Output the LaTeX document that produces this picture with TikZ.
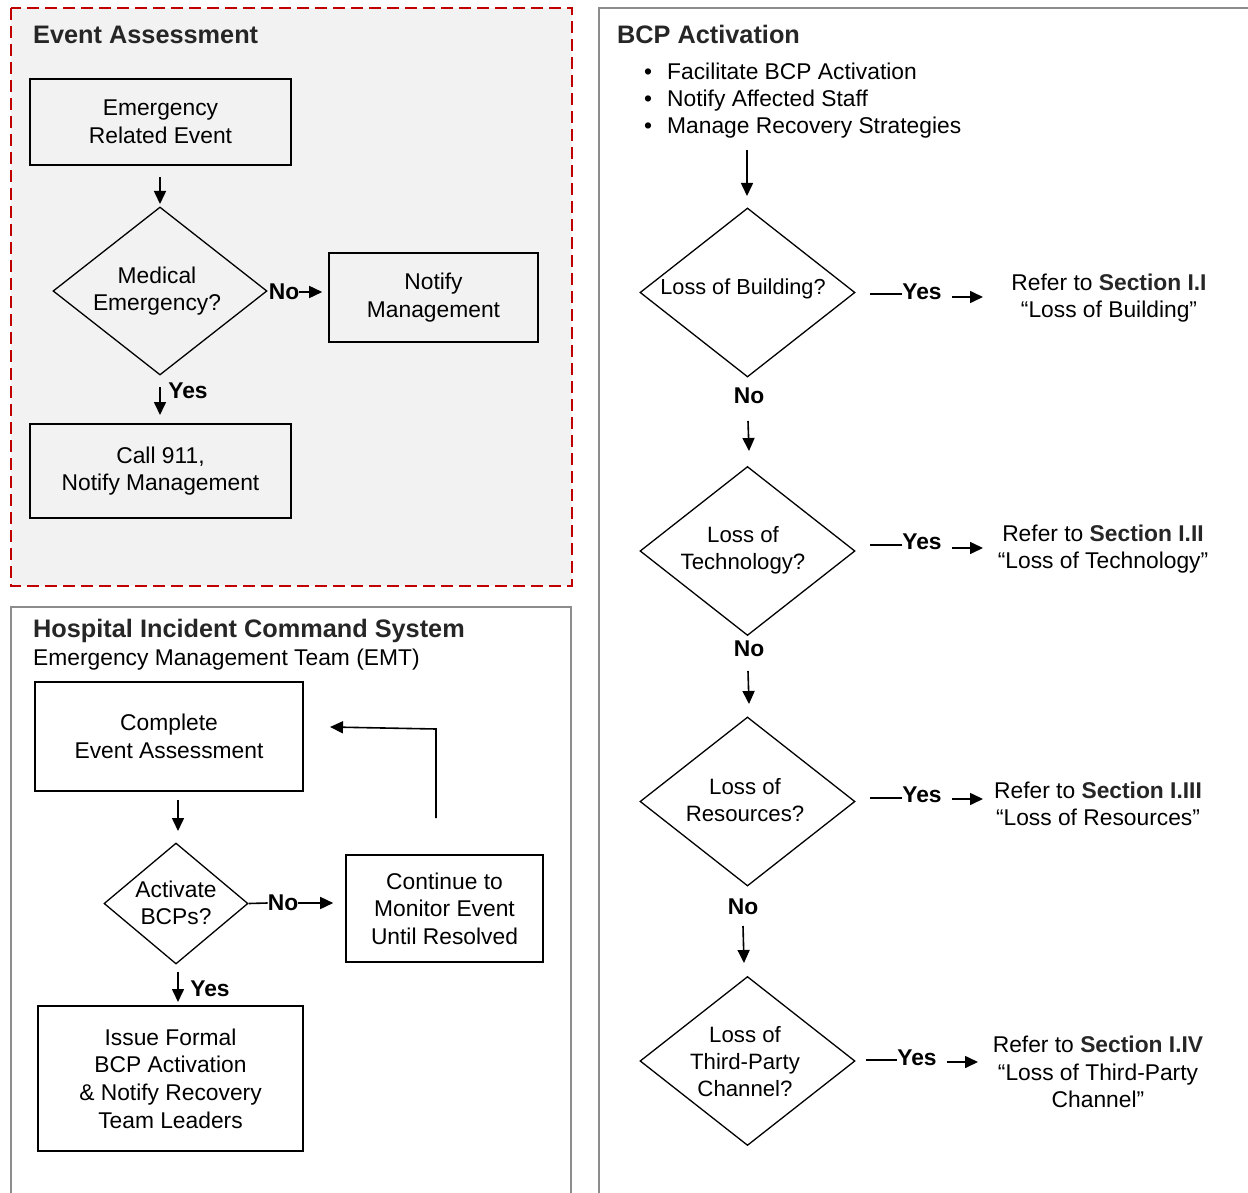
\documentclass[tikz,border=0pt]{standalone}
\usepackage{fontspec}
\setmainfont{Liberation Sans}
\usetikzlibrary{shapes.geometric,arrows.meta}
\definecolor{panelred}{HTML}{C00000}
\definecolor{panelgray}{HTML}{8C8C8C}
\definecolor{panelfill}{HTML}{F2F2F2}
\definecolor{titlegray}{HTML}{262626}
\begin{document}
\begin{tikzpicture}[x=1pt,y=-1pt,
  body/.style={font=\fontsize{22.8}{27.6}\selectfont, align=center, text=black, inner sep=0},
  dbody/.style={font=\fontsize{22.2}{27}\selectfont, align=center, text=black, inner sep=0},
  box/.style={draw=black, line width=1.6pt, body},
  dia/.style={draw=black, line width=1.3pt, shape=diamond, inner sep=0},
  ttl/.style={font=\fontsize{25.3}{28}\selectfont\bfseries, text=titlegray, anchor=base west, inner sep=0},
  sub/.style={font=\fontsize{22.8}{27.6}\selectfont, text=black, anchor=base west, inner sep=0},
  lab/.style={font=\fontsize{22.8}{26}\selectfont\bfseries, text=black, inner sep=0},
  arr/.style={line width=1.6pt, -{Triangle[length=13pt,width=12pt]}},
  ln/.style={line width=1.6pt},
]
\useasboundingbox (0,0) rectangle (1248,1193);

% ---------- panels ----------
\draw[panelred, dash pattern=on 12pt off 6pt, line width=1.8pt, fill=panelfill] (11,8) rectangle (572,586);
\draw[panelgray, line width=1.8pt] (11,1193) -- (11,607) -- (571,607) -- (571,1193);
\draw[panelgray, line width=1.8pt] (599,1193) -- (599,8) -- (1248,8);

% ---------- Event Assessment ----------
\node[ttl] (t1) at (33,44) {Event Assessment};
\node[box, minimum width=261pt, minimum height=86pt] (ere) at (160.5,122) {Emergency\\Related Event};
\node[dia, minimum width=214pt, minimum height=168pt] (med) at (160,291) {};
\node[body] (medt) at (157,291) {Medical\\Emergency?};
\node[box, minimum width=209pt, minimum height=89pt] (nm) at (433.5,297.5) {Notify\\Management};
\node[box, minimum width=261pt, minimum height=94pt] (c911) at (160.5,471) {Call 911,\\Notify Management};

\coordinate (a1s) at (160,177);
\coordinate (a1e) at (160,204);
\draw[arr] (a1s) -- (a1e);

\node[lab] (no1) at (284,292) {No};
\draw[arr] (no1.east) -- ([xshift=-6pt]nm.west |- no1.east);

\coordinate (a2s) at (160,387);
\coordinate (a2e) at (160,415);
\draw[arr] (a2s) -- (a2e);
\node[lab] (yes1) at (188,391) {Yes};

% ---------- HICS ----------
\node[ttl] (t2) at (33,637) {Hospital Incident Command System};
\node[sub] (t2s) at (33,665) {Emergency Management Team (EMT)};
\node[box, minimum width=268pt, minimum height=109pt] (cea) at (169,736.5) {Complete\\Event Assessment};
\coordinate (b1s) at (178,800);
\coordinate (b1e) at (178,831);
\draw[arr] (b1s) -- (b1e);
\node[dia, minimum width=144pt, minimum height=121pt] (act) at (176,903.5) {};
\node[body] (actt) at (176,903) {Activate\\BCPs?};
\node[box, minimum width=197pt, minimum height=107pt] (cont) at (444.5,908.5) {Continue to\\Monitor Event\\Until Resolved};
\node[lab] (no2) at (283,903) {No};
\draw[ln] (act.east) -- (no2.west);
\draw[arr] (no2.east) -- ([xshift=-12pt]cont.west |- no2.east);
\coordinate (fb1) at (436,818);
\coordinate (fb2) at (436,729);
\coordinate (fbe) at (330,727);
\draw[arr] (fb1) -- (fb2) -- (fbe);
\coordinate (b2s) at (178,972);
\coordinate (b2e) at (178,1002);
\draw[arr] (b2s) -- (b2e);
\node[lab] (yes2) at (210,989) {Yes};
\node[box, minimum width=265pt, minimum height=145pt] (issue) at (170.5,1078.5) {Issue Formal\\BCP Activation\\\& Notify Recovery\\Team Leaders};

% ---------- BCP Activation ----------
\node[ttl] (t3) at (617,44) {BCP Activation};
\node[sub] (bl1) at (644,80) {•};
\node[sub] (bt1) at (667,80) {Facilitate BCP Activation};
\node[sub] (bl2) at (644,107) {•};
\node[sub] (bt2) at (667,107) {Notify Affected Staff};
\node[sub] (bl3) at (644,134) {•};
\node[sub] (bt3) at (667,134) {Manage Recovery Strategies};

\coordinate (c0s) at (747,150);
\coordinate (c0e) at (747,196);
\draw[arr] (c0s) -- (c0e);

% diamond 1
\node[dia, minimum width=215pt, minimum height=169pt] (d1) at (747.5,292.5) {};
\node[dbody, font=\fontsize{21.7}{27}\selectfont] (d1t) at (743,289) {Loss of Building?};
\coordinate (y1a) at (870,294);
\node[lab] (y1) at (922,292) {Yes};
\coordinate (y1b) at (952,297);
\coordinate (y1c) at (983,297);
\draw[ln] (y1a) -- (y1.west |- y1a);
\draw[arr] (y1b) -- (y1c);
\node[body] (r1) at (1109,298) {Refer to \textbf{\color{titlegray}Section I.I}\\“Loss of Building”};
\node[lab] (n1) at (749,396) {No};
\coordinate (n1s) at (748,421);
\coordinate (n1e) at (749,451);
\draw[arr] (n1s) -- (n1e);

% diamond 2
\node[dia, minimum width=215pt, minimum height=169pt] (d2) at (747.5,551) {};
\node[dbody] (d2t) at (743,550) {Loss of\\Technology?};
\coordinate (y2a) at (870,545);
\node[lab] (y2) at (922,542) {Yes};
\coordinate (y2b) at (952,548);
\coordinate (y2c) at (983,548);
\draw[ln] (y2a) -- (y2.west |- y2a);
\draw[arr] (y2b) -- (y2c);
\node[body] (r2) at (1103,549) {Refer to \textbf{\color{titlegray}Section I.II}\\“Loss of Technology”};
\node[lab] (n2) at (749,649) {No};
\coordinate (n2s) at (748,671);
\coordinate (n2e) at (749,704);
\draw[arr] (n2s) -- (n2e);

% diamond 3
\node[dia, minimum width=215pt, minimum height=169pt] (d3) at (747.5,801.5) {};
\node[dbody] (d3t) at (745,800) {Loss of\\Resources?};
\coordinate (y3a) at (870,798);
\node[lab] (y3) at (922,795) {Yes};
\coordinate (y3b) at (952,799);
\coordinate (y3c) at (983,799);
\draw[ln] (y3a) -- (y3.west |- y3a);
\draw[arr] (y3b) -- (y3c);
\node[body] (r3) at (1098,804) {Refer to \textbf{\color{titlegray}Section I.III}\\“Loss of Resources”};
\node[lab] (n3) at (743,907) {No};
\coordinate (n3s) at (743,926);
\coordinate (n3e) at (744,963);
\draw[arr] (n3s) -- (n3e);

% diamond 4
\node[dia, minimum width=215pt, minimum height=169pt] (d4) at (747.5,1061) {};
\node[dbody] (d4t) at (745,1062) {Loss of\\Third-Party\\Channel?};
\coordinate (y4a) at (866,1060);
\node[lab] (y4) at (917,1058) {Yes};
\coordinate (y4b) at (947,1062);
\coordinate (y4c) at (978,1062);
\draw[ln] (y4a) -- (y4.west |- y4a);
\draw[arr] (y4b) -- (y4c);
\node[body] (r4) at (1098,1072) {Refer to \textbf{\color{titlegray}Section I.IV}\\“Loss of Third-Party\\Channel”};
\end{tikzpicture}
\end{document}
